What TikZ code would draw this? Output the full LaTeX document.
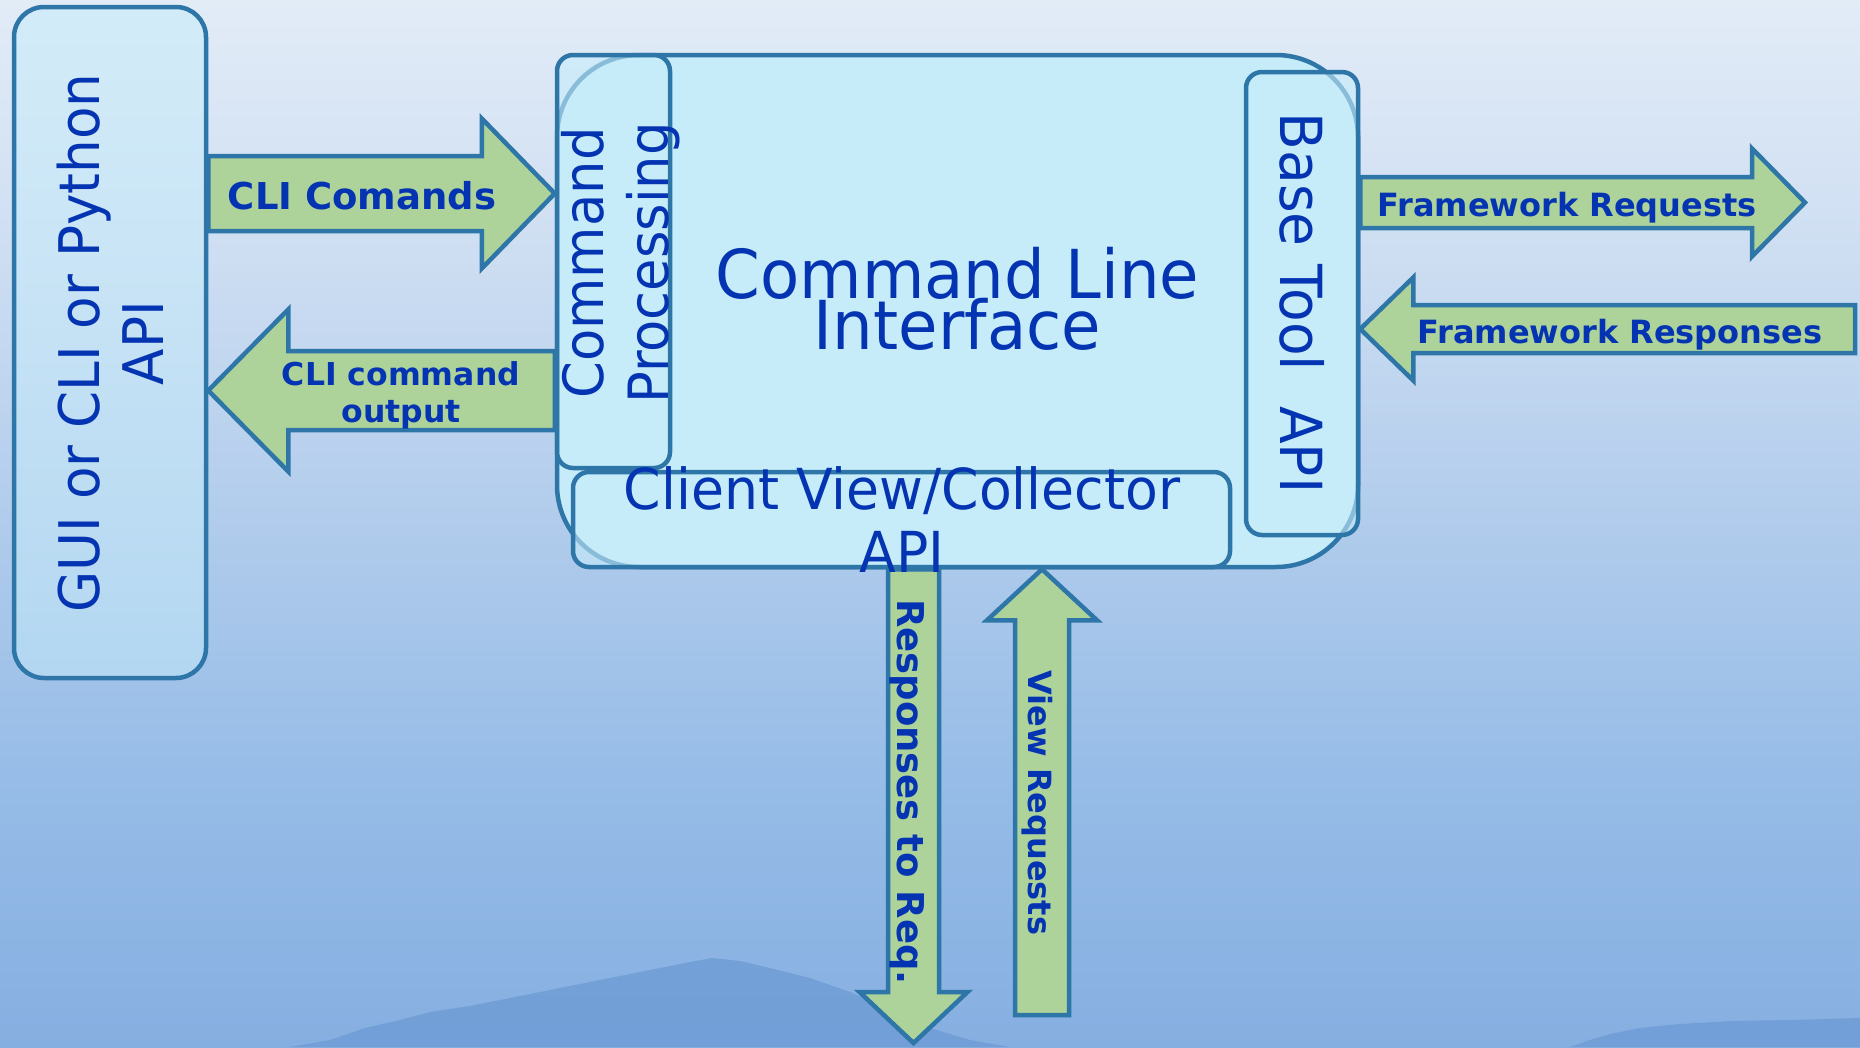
\documentclass[tikz,border=0pt]{standalone}
\usepackage{fontspec}
\setmainfont{DejaVu Sans}
\newfontfamily\boxfont{DejaVu Sans}[FakeStretch=0.95]
\usetikzlibrary{calc}
\definecolor{bordc}{RGB}{46,117,168}
\definecolor{boxc}{RGB}{198,236,250}
\definecolor{arrc}{RGB}{174,211,154}
\definecolor{txtc}{RGB}{5,52,178}
\definecolor{bgA}{RGB}{226,236,247}
\definecolor{bgB}{RGB}{206,222,242}
\definecolor{bgC}{RGB}{177,204,236}
\definecolor{bgD}{RGB}{150,188,231}
\definecolor{bgE}{RGB}{134,175,225}
\definecolor{mtn}{RGB}{108,154,212}
\newcommand\blockarrow[6]{%
  \coordinate (#1h) at ($(#3)!#6!(#2)$);
  \draw[arr] ($(#2)!#4!90:(#3)$) -- ($(#1h)!#4!90:(#3)$) -- ($(#1h)!#5!90:(#3)$)
    -- (#3) -- ($(#1h)!#5!270:(#3)$) -- ($(#1h)!#4!270:(#3)$) -- ($(#2)!#4!270:(#3)$) -- cycle;}
\newcommand\tightlines{\lineskiplimit=-60pt\relax}
\begin{document}
\begin{tikzpicture}[x=1pt,y=-1pt,
  bigbox/.style={draw=bordc, line width=4.5pt, fill=boxc, inner sep=0pt, rounded corners=82pt},
  inbox/.style={draw=bordc, line width=4.5pt, fill=boxc, fill opacity=0.6, inner sep=0pt, rounded corners=16pt},
  guibox/.style={draw=bordc, line width=4.5pt, fill=boxc, fill opacity=0.5, inner sep=0pt, rounded corners=30pt},
  arr/.style={draw=bordc, line width=4.5pt, fill=arrc, line join=miter},
  btxt/.style={text=txtc, inner sep=0pt, align=center},
  alabel/.style={text=txtc, inner sep=0pt, align=center}]
\useasboundingbox (0,0) rectangle (1860,1047);
% background
\shade[top color=bgA, bottom color=bgB] (0,0) rectangle (1860,250);
\shade[top color=bgB, bottom color=bgC] (0,250) rectangle (1860,520);
\shade[top color=bgC, bottom color=bgD] (0,520) rectangle (1860,780);
\shade[top color=bgD, bottom color=bgE] (0,780) rectangle (1860,1047);
\fill[mtn, opacity=0.75] (290,1047) -- (330,1040) -- (365,1028) -- (400,1020) -- (430,1012) -- (470,1006) -- (520,996) -- (560,988) -- (600,980) -- (640,972) -- (680,964) -- (712,958) -- (740,961) -- (770,968) -- (810,978) -- (850,992) -- (890,1010) -- (930,1028) -- (970,1040) -- (1010,1047) -- cycle;
\fill[mtn, opacity=0.75] (1570,1047) -- (1590,1040) -- (1610,1034) -- (1640,1028) -- (1680,1024) -- (1730,1021) -- (1790,1020) -- (1860,1018) -- (1860,1047) -- cycle;
% boxes
\node[bigbox, minimum width=801pt, minimum height=512pt] (cli) at (957.5,311) {};
\node[inbox, minimum width=113pt, minimum height=413pt] (cp) at (613.5,261.5) {};
\node[inbox, minimum width=112pt, minimum height=463pt] (bt) at (1302,303.5) {};
\node[inbox, minimum width=657pt, minimum height=95pt] (cv) at (901.5,519.5) {};
\node[guibox, minimum width=192pt, minimum height=671pt] (gui) at (110,342.5) {};
% connector arrows
\coordinate (a1s) at (gui.east |- 0,193.5);
\coordinate (a1e) at (cp.west |- 0,193.5);
\blockarrow{a1}{a1s}{a1e}{37.5pt}{75pt}{73pt}
\coordinate (a2s) at (cp.west |- 0,390.5);
\coordinate (a2e) at (gui.east |- 0,390.5);
\blockarrow{a2}{a2s}{a2e}{39.5pt}{81pt}{80pt}
\coordinate (a3s) at (bt.east |- 0,202.5);
\coordinate (fwreq) at (1805,202.5);
\blockarrow{a3}{a3s}{fwreq}{25.5pt}{54pt}{53pt}
\coordinate (fwresp) at (1855,329);
\coordinate (a4e) at (bt.east |- 0,329);
\blockarrow{a4}{fwresp}{a4e}{24pt}{51.5pt}{53pt}
\coordinate (a5s) at (cli.south -| 913.5,0);
\coordinate (resp) at (913.5,1043);
\blockarrow{a5}{a5s}{resp}{25.5pt}{54pt}{51pt}
\coordinate (vreq) at (1042,1015);
\coordinate (a6e) at (cli.south -| 1042,0);
\blockarrow{a6}{vreq}{a6e}{27pt}{55pt}{51pt}
% box texts
\node[btxt, rotate=90, font=\boxfont\fontsize{56}{64}\selectfont] (guit) at (110.7,343) {GUI or CLI or Python\\API};
\node[btxt, font={\boxfont\fontsize{67.5}{51}\selectfont\tightlines}] (clit) at (957.5,298.9) {Command Line\\Interface};
\node[btxt, rotate=90, font=\boxfont\fontsize{55.5}{65}\selectfont] (cpt) at (621,263) {Command\\Processing};
\node[btxt, rotate=-90, font=\boxfont\fontsize{58}{64}\selectfont] (btt) at (1302,303) {Base Tool\ \ API};
\node[btxt, font=\boxfont\fontsize{56.5}{63}\selectfont] (cvt) at (902,519.2) {Client View/Collector\\API};
% arrow labels
\node[alabel, anchor=base, font=\bfseries\fontsize{37}{44}\selectfont] (l1) at (362,209) {CLI Comands};
\node[alabel, font=\bfseries\fontsize{31.5}{37}\selectfont] (l2) at (401,395.2) {CLI command\\output};
\node[alabel, anchor=base, font=\bfseries\fontsize{32}{38}\selectfont] (l3) at (1567,216) {Framework Requests};
\node[alabel, anchor=base, font=\bfseries\fontsize{32}{38}\selectfont] (l4) at (1620,343) {Framework Responses};
\node[alabel, anchor=base, rotate=-90, font=\bfseries\fontsize{37}{44}\selectfont] (l5) at (897,792) {Responses to Req.};
\node[alabel, anchor=base, rotate=-90, font=\bfseries\fontsize{32}{38}\selectfont] (l6) at (1028,803) {View Requests};
\end{tikzpicture}
\end{document}
